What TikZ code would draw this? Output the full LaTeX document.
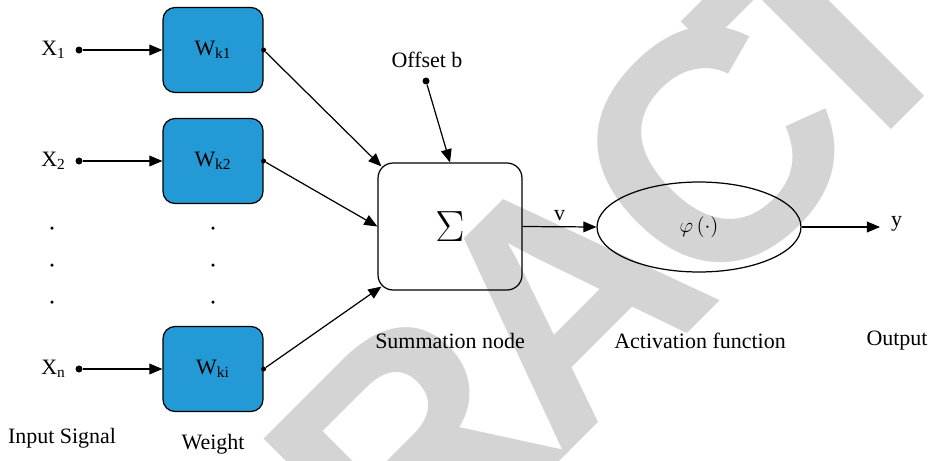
\documentclass[tikz,border=0pt]{standalone}
\usepackage{fontspec}
\setmainfont{Liberation Serif}
\newfontfamily\stampfont{Liberation Sans}
\usetikzlibrary{shapes,arrows}
\definecolor{wblue}{RGB}{35,154,214}
\definecolor{stampgray}{RGB}{212,212,212}

\begin{document}
\begin{tikzpicture}[x=0.02cm,y=-0.02cm,
     font=\fontsize{12.5}{15}\selectfont,
     wbox/.style={draw,fill=wblue,rounded corners=0.24cm,minimum width=2cm,minimum height=1.7cm,line width=0.7pt},
     sumbox/.style={draw,rounded corners=0.3cm,minimum width=2.88cm,minimum height=2.54cm,line width=0.7pt},
     actfun/.style={draw,ellipse,minimum width=4.08cm,minimum height=1.8cm,line width=0.7pt},
     sig/.style={-triangle 45,line width=0.7pt},
     dot/.style={circle,fill,inner sep=0pt,minimum size=0.14cm},
     edot/.style={circle,fill,inner sep=0pt,minimum size=0.1cm},
     vdot/.style={circle,fill,inner sep=0pt,minimum size=0.07cm},
     stamp/.style={text=stampgray,font=\stampfont\bfseries\fontsize{186}{186}\selectfont,inner sep=0pt,rotate=45}
     ]
\useasboundingbox (0,0) rectangle (932,460);

%Column of the weights and of the input dots
\def \wx{213}
\def \dotx{79}

%Grey stamp letters, behind everything else
\begin{scope}
\clip (0,0) rectangle (932,460);
\foreach [count=\i] \ch/\t in {R/-425,A/-210,C/0,T/165}
   {
\pgfmathsetmacro{\sx}{712+0.707*\t}
\pgfmathsetmacro{\sy}{150-0.707*\t}
   \node[stamp] (stamp\i) at (\sx,\sy) {\ch};
   }
\end{scope}

%Inputs and weights
\foreach \i/\xs/\ws/\yy in {1/1/k1/50,2/2/k2/161,3/n/ki/369}
   {
   \node[wbox] (w\i) at (\wx,\yy) {W\textsubscript{\ws}};
   \node[dot] (in\i) at (\dotx,\yy) {};
   \node[anchor=east] (x\i) at (72,\yy) {X\textsubscript{\xs}};
   \draw[sig] (in\i) -- (w\i);
   \node[edot] (out\i) at (w\i.east) {};
   }

%Dots standing for the skipped inputs
\foreach [count=\i] \yy in {228,265,302}
   {
   \node[vdot] (lskip\i) at (52,\yy) {};
   \node[vdot] (wskip\i) at (\wx,\yy) {};
   }

%Summation node and activation function
\node[sumbox] (sum) at (450,226.5) {\fontsize{24}{24}\selectfont$\Sigma$};
\node[actfun] (act) at (699,227) {$\varphi\,(\cdot)$};

\node[dot] (bdot) at (426,81) {};
\node (boff) at (427,60) {Offset b};
\coordinate (yout) at (880,227);
\node[anchor=west] (ylab) at (885,224) {y};

\draw[sig] (out1) -- ([shift={(4,4)}]sum.north west);
\draw[sig] (out2) -- (sum.west);
\draw[sig] (out3) -- ([shift={(4,-4)}]sum.south west);
\draw[sig] (bdot) -- (sum.north);
\draw[sig] (sum.east) -- node[above] (vlab) {v} (act.west);
\draw[sig] (act.east) -- (yout);

%Captions under each stage
\node (capsum) at (450,341) {Summation node};
\node (capact) at (700,341) {Activation function};
\node (capout) at (897,341) {Output};
\node (capin) at (62,438) {Input Signal};
\node (capw) at (213,444) {Weight};
\end{tikzpicture}
\end{document}
